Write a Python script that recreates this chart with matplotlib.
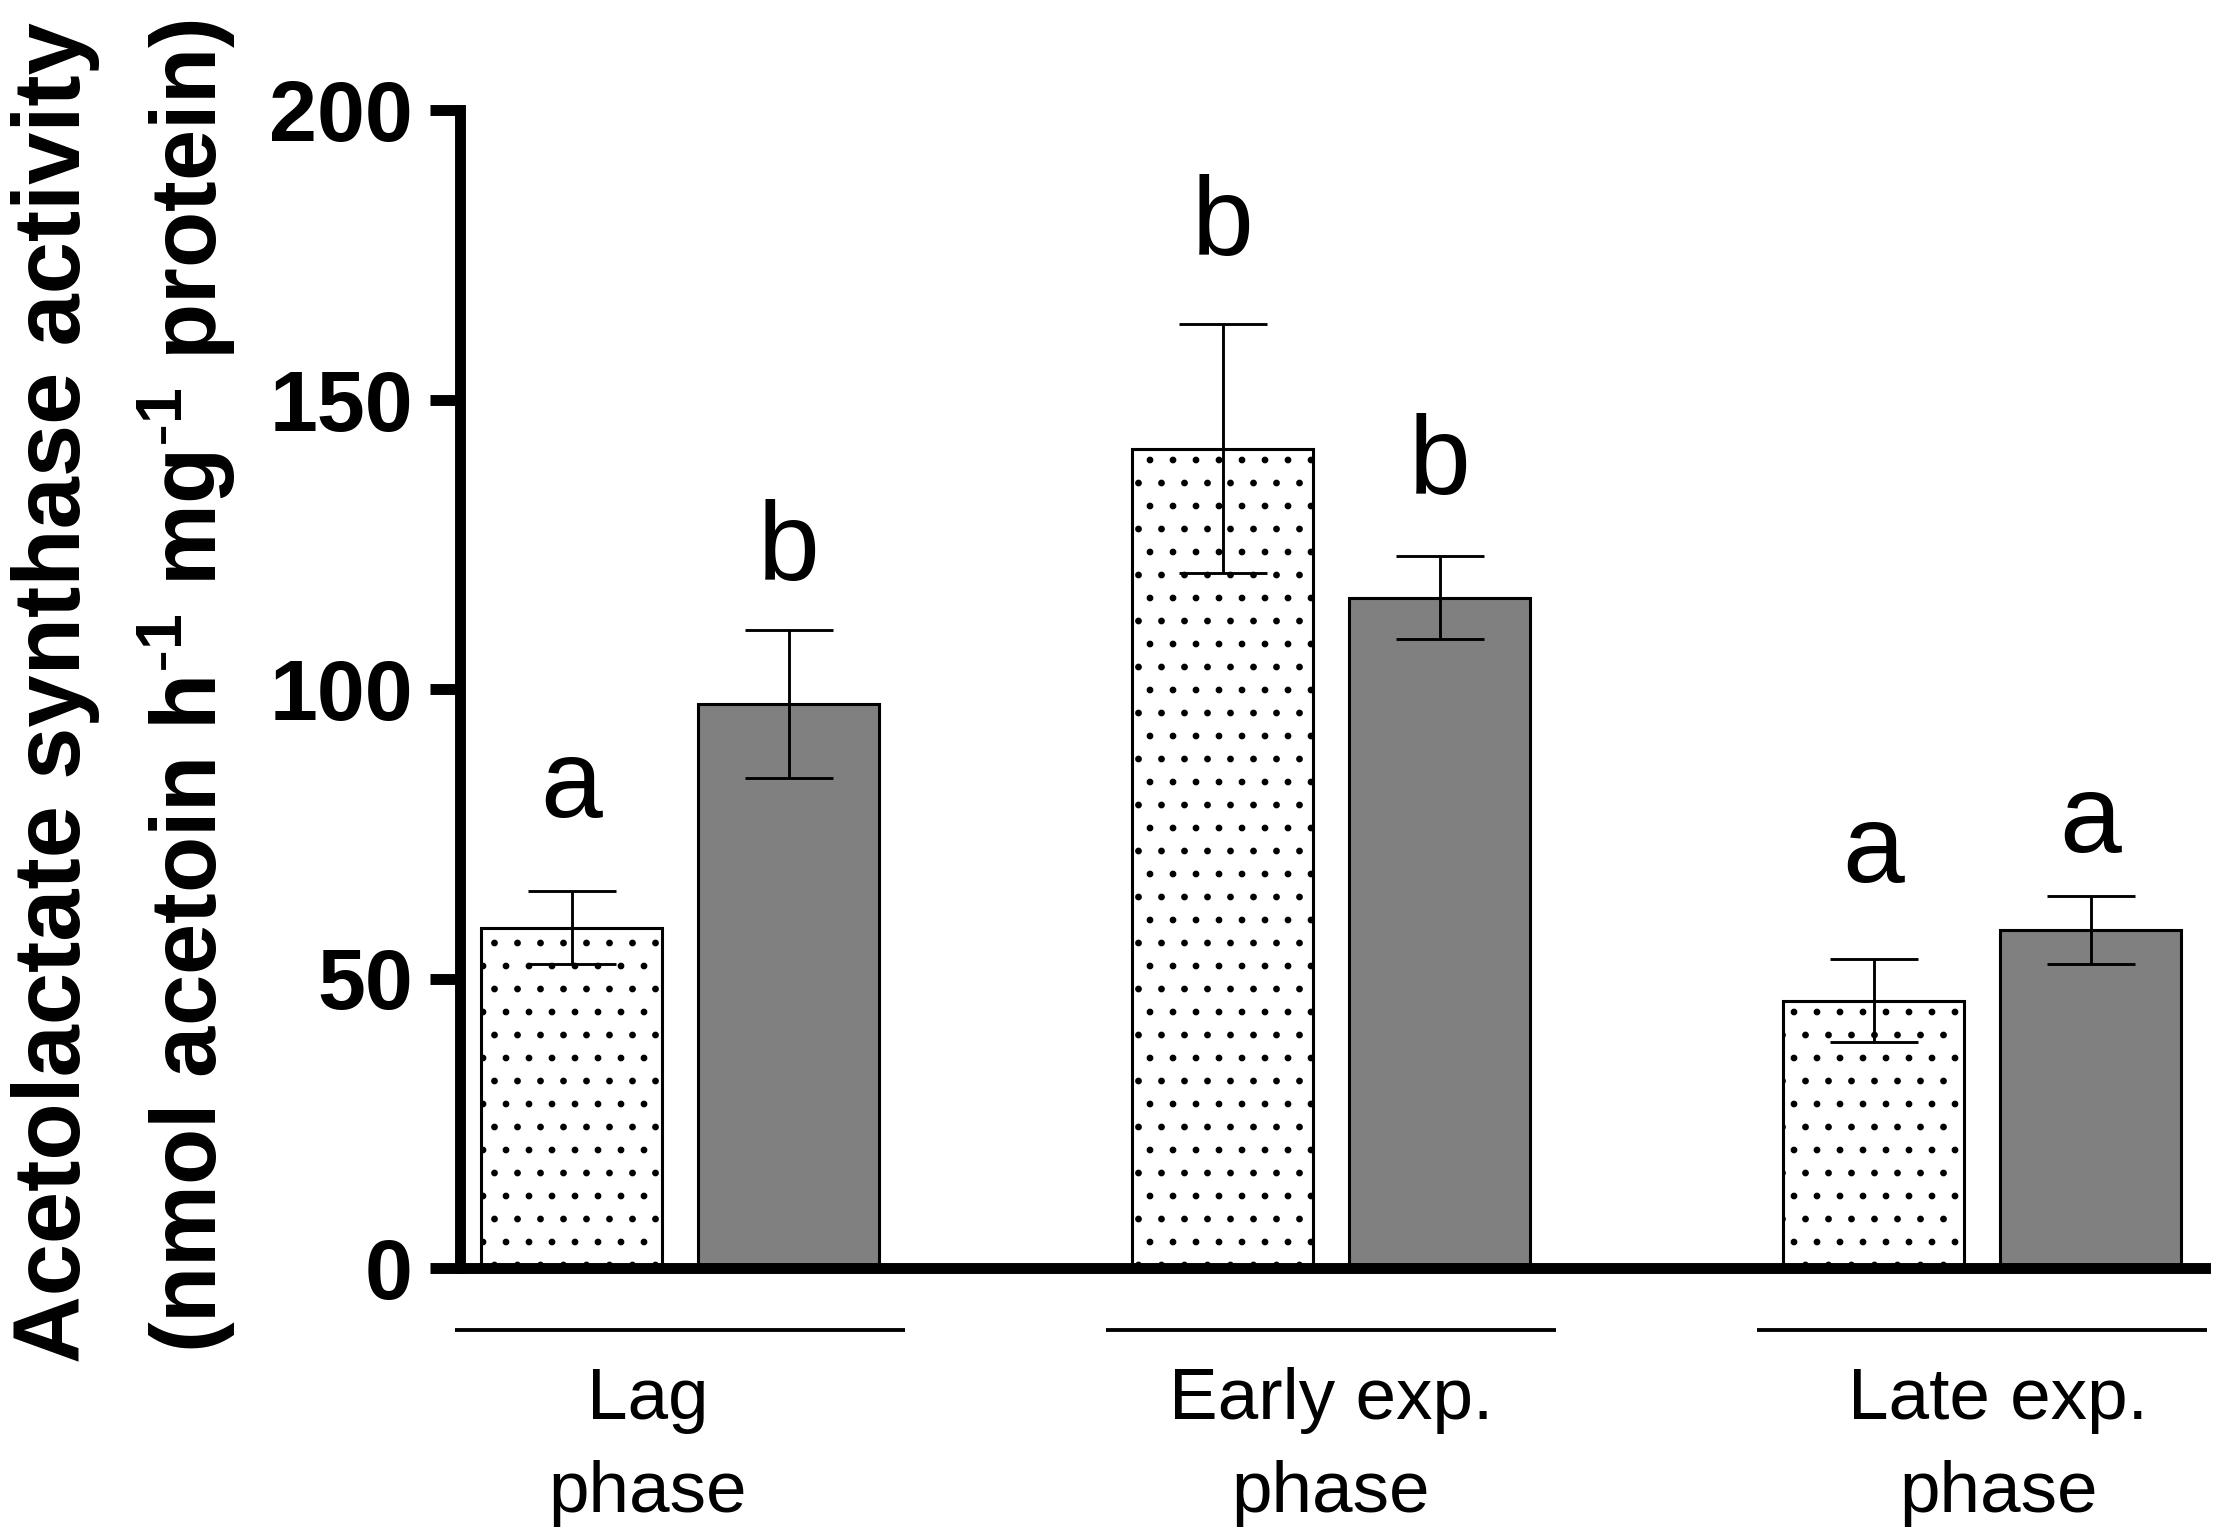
import matplotlib
matplotlib.use('Agg')
import matplotlib.pyplot as plt
import numpy as np
from matplotlib.transforms import blended_transform_factory

# ---------------- data ----------------
groups = ['Lag\nphase', 'Early exp.\nphase', 'Late exp.\nphase']
dotted_mean = [58.8, 141.5, 46.2]
dotted_err = [6.3, 21.5, 7.2]
grey_mean = [97.4, 115.8, 58.4]
grey_err = [12.8, 7.2, 5.9]
dotted_letters = ['a', 'b', 'a']
grey_letters = ['b', 'b', 'a']
y_ticks = [0, 50, 100, 150, 200]
ylabel_line1 = 'Acetolactate synthase activity'
ylabel_line2 = r'(nmol acetoin h$^{\text{-}1}$ mg$^{\text{-}1}$ protein)'

# ---------------- layout ----------------
DPI = 138
plt.rcParams['font.family'] = ['Liberation Sans', 'DejaVu Sans']
plt.rcParams['mathtext.default'] = 'regular'
plt.rcParams['hatch.linewidth'] = 1.1
plt.rcParams['hatch.color'] = 'black'

fig = plt.figure(figsize=(2217 / DPI, 1538 / DPI), dpi=DPI, facecolor='white')
ax = fig.add_axes([460 / 2217, 1 - 1268 / 1538, (2205 - 460) / 2217, (1268 - 110) / 1538])

x = np.arange(len(groups))
width = 0.278
offset = 0.1667

ax.bar(x - offset, dotted_mean, width, color='white', edgecolor='black',
       linewidth=1.6, hatch='.', zorder=2)
ax.bar(x + offset, grey_mean, width, color='#808080', edgecolor='black',
       linewidth=1.6, zorder=2)
ax.errorbar(x - offset, dotted_mean, yerr=dotted_err, fmt='none', ecolor='black',
            elinewidth=1.5, capsize=23, capthick=1.5, zorder=3)
ax.errorbar(x + offset, grey_mean, yerr=grey_err, fmt='none', ecolor='black',
            elinewidth=1.5, capsize=23, capthick=1.5, zorder=3)

# significance letters (baseline heights in data units)
dotted_letter_y = [77.9, 175.0, 66.7]
grey_letter_y = [118.8, 133.7, 71.9]
for xi, lt, ly in zip(x - offset, dotted_letters, dotted_letter_y):
    ax.text(xi, ly, lt, ha='center', va='baseline', fontsize=58, color='black')
for xi, lt, ly in zip(x + offset, grey_letters, grey_letter_y):
    ax.text(xi, ly, lt, ha='center', va='baseline', fontsize=58, color='black')

ax.set_ylim(0, 200)
ax.set_xlim(-0.338, 2.3425)
ax.set_yticks(y_ticks)
ax.set_yticklabels([str(t) for t in y_ticks], fontsize=45, fontweight='bold')
ax.set_xticks([])
ax.tick_params(axis='y', length=15.7, width=5.7, pad=8.9, color='black')
for s in ['top', 'right']:
    ax.spines[s].set_visible(False)
for s in ['left', 'bottom']:
    ax.spines[s].set_linewidth(5.7)
    ax.spines[s].set_zorder(4)

# group underlines and labels
trans = blended_transform_factory(ax.transData, fig.transFigure)
half = 0.3456
label_dx = [-0.05, 0.0, 0.025]
for xi, g, dx in zip(x, groups, label_dx):
    ax.plot([xi - half, xi + half], [1 - 1330 / 1538] * 2, color='black',
            linewidth=2.0, transform=trans, clip_on=False, solid_capstyle='butt')
    l1, l2 = g.split('\n')
    ax.text(xi + dx, 1 - 1419 / 1538, l1, ha='center', va='baseline',
            fontsize=38, transform=trans)
    ax.text(xi + dx, 1 - 1512 / 1538, l2, ha='center', va='baseline',
            fontsize=38, transform=trans)

# y label (two lines)
fig.text(80 / 2217, 1 - 693 / 1538, ylabel_line1, rotation=90,
         rotation_mode='anchor', ha='center', va='baseline',
         fontsize=49, fontweight='bold')
fig.text(217 / 2217, 1 - 686 / 1538, ylabel_line2, rotation=90,
         rotation_mode='anchor', ha='center', va='baseline',
         fontsize=48, fontweight='bold')

fig.savefig('out.png', dpi=DPI, facecolor='white')
